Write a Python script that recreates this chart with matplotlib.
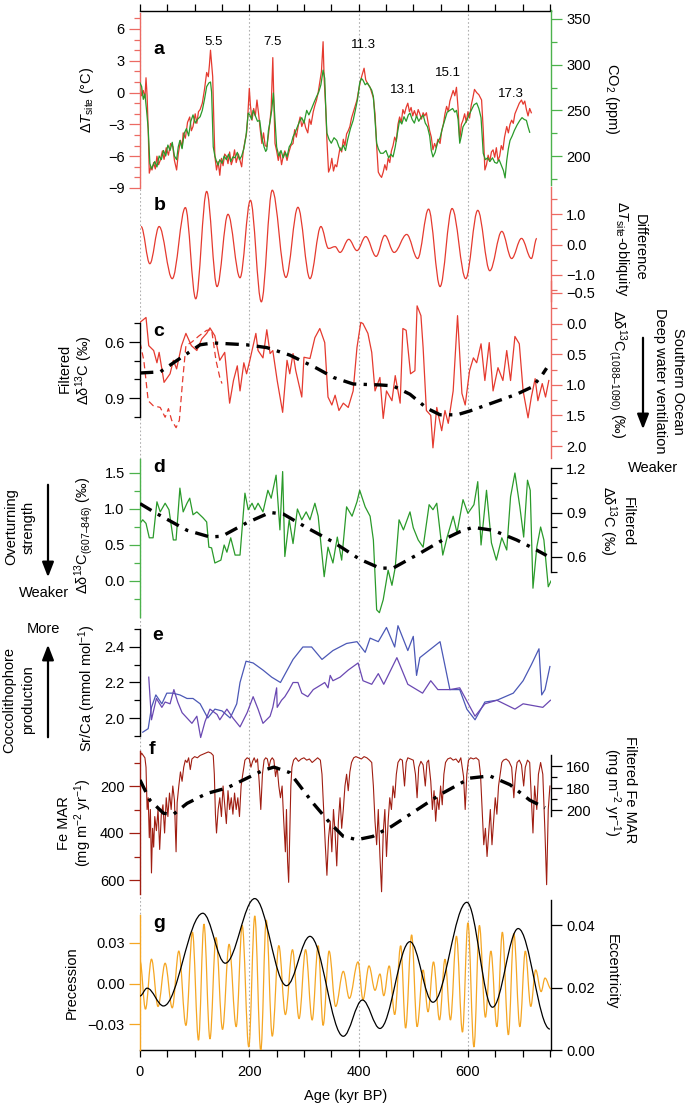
import numpy as np
import matplotlib
matplotlib.use("Agg")
import matplotlib.pyplot as plt
from matplotlib.path import Path
from matplotlib.patches import PathPatch

# ── 1. DATA ──────────────────────────────────────────────
# a: Delta T site (C) and CO2 (ppm)
a_t_age = [0,3,6,9,11,13,15,17,20,22, 25,28,31,34,37,41,44,48,52,56, 60,63,67,70,74,77,79,83,87,91,
           94,97,101,104,107,110,114,118,122,125, 127,129,131,133,135,137,140,143,146,149,
           152,155,158,161,164,167,170,173,176,180, 183,186,189,192,195,197,200,202,205,208,
           211,214,217,220,223,226,229,232,235,238, 240,243,245,247,250,253,256,259,262,265,
           269,272,276,280,283,286,290,293,296,300, 303,307,310,313,317,320,323,326,329,332,
           335,337,340,342,345,348,351,354,357,360, 363,366,369,372,375,378,381,384,387,390,
           394,397,400,403,406,410,413,417,421,424, 427,430,433,436,439,442,445,448,451,454,
           457,460,463,466,469,472,475,478,481,484, 487,490,493,496,499,502,506,509,512,515,
           518,521,524,527,530,533,536,539,542,545, 549,552,555,558,561,564,567,570,573,576,
           579,582,585,588,591,594,597,600,603,606, 609,612,616,620,625,628,631,634,637,640,
           643,646,649,652,655,658,661,664,667,671, 674,677,680,683,686,690,694,698,701,704,
           707,710,713,716]
a_temp = [0.9,-0.3,0.2,-0.5,1.4,-0.3,-3.5,-7.6,-7.0,-7.3, -6.6,-7.2,-6.0,-6.8,-6.4,-5.5,-6.3,-5.2,-5.9,-4.8,
          -5.1,-6.4,-7.3,-5.8,-4.5,-5.2,-3.8,-4.3,-2.8,-2.3, -3.6,-3.2,-2.0,-2.9,-1.8,-1.6,-1.0,0.3,1.9,1.5,
          2.6,4.0,2.8,1.5,-2.5,-6.0,-7.3,-6.5,-7.8,-6.2, -6.9,-5.8,-6.0,-6.7,-5.6,-6.8,-6.3,-5.4,-6.6,-5.8,
          -6.4,-7.0,-5.5,-4.6,-3.8,-2.4,0.4,-1.2,-2.6,-1.5, -2.2,-0.7,-2.0,-3.5,-4.8,-3.8,-5.0,-5.1,-4.0,-2.6,
          -1.5,3.3,-1.0,-4.8,-5.5,-6.4,-5.6,-6.8,-6.0,-5.5, -6.4,-5.7,-5.0,-4.8,-3.5,-4.2,-3.0,-2.3,-3.2,-2.6,
          -3.3,-3.8,-2.5,-3.0,-1.8,-1.2,-0.7,0.0,1.0,2.0, 4.8,1.2,-1.6,-4.5,-7.5,-7.1,-6.2,-7.4,-6.8,-7.0,
          -6.1,-5.2,-5.6,-4.4,-5.0,-3.9,-3.6,-3.2,-2.4,-1.9, -1.2,-0.7,0.2,1.0,1.6,2.3,1.2,0.8,0.5,0.0,
          -0.5,-2.0,-5.0,-7.5,-7.8,-8.0,-7.5,-6.8,-7.3,-6.2, -6.6,-5.5,-5.0,-4.2,-4.6,-3.0,-2.3,-2.8,-1.6,-2.0,
          -1.4,-1.0,-1.8,-1.4,-2.2,-1.7,-2.3,-1.6,-2.0,-2.5, -1.9,-2.2,-1.9,-2.8,-3.6,-4.2,-5.4,-4.8,-5.2,-4.4,
          -4.8,-3.6,-3.0,-2.0,-1.3,-1.8,-0.8,-0.3,0.2,-0.3, 0.5,-1.5,-4.5,-3.0,-2.6,-2.0,-2.8,-1.8,-2.4,-1.2,
          -0.5,0.3,0.0,-0.2,-0.7,-3.5,-7.3,-6.8,-5.9,-6.5, -5.6,-5.4,-6.1,-5.2,-6.4,-6.0,-5.0,-5.4,-4.2,-3.2,
          -3.8,-3.0,-2.6,-2.9,-2.0,-1.5,-1.0,-0.7,-1.1,-0.8, -1.6,-2.2,-1.5,-1.9]
a_co2_age = [0,3,6,9,12,15,18,21,24,27, 31,35,39,43,47,51,55,59,63,67, 70,73,77,81,85,89,93,97,101,105,
             110,114,118,122,126,129,131,134,137,140, 143,146,150,154,158,162,166,170,174,178,
             182,186,190,194,198,201,204,207,211,215, 219,223,227,230,232,235,238,241,244,247,
             250,254,258,262,266,269,273,277,280,284, 288,292,296,300,305,309,314,318,323,327,
             331,335,338,340,342,346,350,355,360,364, 368,372,376,380,385,390,394,398,402,405,
             408,412,416,421,424,427,430,433,436,440, 445,450,455,459,463,467,471,475,479,483,
             487,491,494,498,502,506,510,514,518,522, 526,530,533,536,540,544,549,554,558,562,
             567,572,576,579,582,585,588,591,595,598, 602,606,611,616,620,624,628,632,636,640,
             645,649,653,657,661,665,668,671,674,677, 681,685,690,695,699,703,707,710,713]
a_co2 = [280,276,262,268,250,230,192,186,190,194, 188,200,196,206,200,212,206,215,200,196,
         210,217,208,225,230,222,238,245,236,240, 243,250,262,276,280,281,270,210,200,194,
         190,196,192,200,196,202,194,199,198,204, 196,200,208,222,247,245,240,250,244,238,
         239,220,210,205,207,228,238,250,269,240, 210,200,206,198,204,199,210,214,221,226,
         232,238,242,236,250,245,252,258,265,270, 278,294,285,250,225,218,214,220,217,210,
         206,212,206,218,230,239,250,262,280,285, 283,278,280,275,272,265,240,214,208,203,
         203,206,198,202,199,210,225,239,235,243, 238,245,247,240,236,244,238,242,245,236,
         232,222,206,199,204,214,220,232,240,248, 250,252,248,250,240,214,222,232,236,239,
         245,250,256,258,252,242,203,196,198,194, 198,193,192,196,190,184,176,195,208,217,
         222,228,234,239,242,240,239,232,226]
mis_labels = ["5.5", "7.5", "11.3", "13.1", "15.1", "17.3"]

# b: difference Delta T site - obliquity (turning points)
b_age = [2,18,35,59,83,102,122,141,161,183,202,222,242,267,289,311,331,345,357,366,
         382,397,413,432,448,465,488,508,528,549,571,596,618,640,662,680,698,716,726]
b_diff = [0.59,-0.63,0.59,-1.12,1.21,-1.78,1.74,-1.38,0.99,-1.09,1.45,-1.88,1.78,-1.08,1.22,-1.12,0.59,-0.13,-0.07,-0.26,
          0.17,-0.2,0.26,-0.39,0.3,-0.26,0.33,-0.46,1.16,-1.38,1.18,-1.12,1.12,-0.86,0.43,-0.46,0.2,-0.46,0.2]

# c: Southern Ocean d13C gradient (1088-1090) and filtered curve
c_age = [0,11,16,25,31,35,44,55,61,67, 76,84,94,104,113,122,128,137,146,155,
         164,171,178,183,190,195,201,205,212,216, 225,232,238,243,251,261,269,274,280,285,
         296,300,311,320,329,338,344,351,357,364, 372,381,390,397,404,408,417,424,430,439,
         445,451,461,467,476,481,487,495,503,507, 514,518,524,532,536,543,552,558,564,573,
         581,589,595,603,610,616,624,631,639,646, 655,664,671,678,686,694,701,710,716,723,
         728,736,742,748]
c_d13c = [-0.02,-0.1,0.36,0.44,0.64,0.47,0.96,0.82,0.6,0.74, 0.36,0.16,0.36,0.44,0.25,0.16,0.07,0.2,0.6,0.47,
          1.3,0.93,0.69,1.1,0.64,0.82,0.6,0.44,0.16,0.44, 0.56,0.1,0.49,0.44,0.93,1.45,0.6,0.82,0.49,0.77,
          1.2,0.55,0.57,0.23,0.08,0.31,1.2,1.33,1.17,1.42, 1.3,1.37,1.1,0.39,-0.02,0.0,0.16,0.47,1.1,0.88,
          1.55,1.1,1.26,0.85,1.3,0.08,0.11,0.82,0.77,-0.29, -0.13,0.39,1.42,1.5,2.03,1.37,1.75,1.42,1.63,1.1,
          -0.13,1.14,1.33,0.77,0.56,0.64,0.33,0.93,0.31,1.1, 0.72,0.93,0.44,0.93,0.21,0.33,1.1,1.54,1.2,0.9,
          1.26,0.98,1.2,0.93]
c2_age = [0,7,15,24,37,46,52,58,66,72,78,84,95,108,122,131,139,146,150]
c2_d13c = [0.31,0.6,1.26,1.34,1.37,1.53,1.39,1.58,1.7,1.58,0.93,0.36,0.3,0.2,0.11,0.1,0.6,0.88,0.98]
c_filt_age = [0,37,67,110,134,195,232,274,323,354,390,439,463,494,525,549,580,603,646,689,718,735,744]
c_filt = [0.766,0.76,0.70,0.615,0.605,0.615,0.63,0.67,0.74,0.79,0.825,0.83,0.835,0.88,0.955,0.99,0.99,
          0.97,0.925,0.88,0.84,0.78,0.74]

# d: d13C gradient (607-846) and filtered curve
d_age = [0,5,11,17,24,31,37,46,53,61, 66,73,79,86,91,97,104,115,122,126,
         131,137,148,154,159,166,174,183,192,198, 205,210,216,225,234,240,249,256,261,265,
         273,280,288,296,304,311,320,326,337,344, 353,361,369,378,388,397,402,412,421,427,
         433,438,445,454,461,467,474,482,494,500, 509,518,529,536,543,554,562,573,580,591,
         600,611,618,624,634,643,652,662,671,678, 686,695,702,709,714,719,726,733,739,747, 752]
d_d13c = [0.8,0.85,0.8,0.6,0.6,1.1,0.96,1.08,0.99,0.57, 0.57,1.29,0.96,1.08,1.15,0.92,0.96,0.88,0.82,0.47,
          0.46,0.25,0.29,0.5,0.4,0.6,0.36,0.36,1.22,0.99, 1.08,0.99,1.08,0.96,1.26,1.15,1.47,0.71,1.52,0.34,
          0.85,0.52,1.0,0.85,0.96,0.85,1.08,0.9,0.06,0.47, 0.25,0.61,0.29,1.03,0.9,1.1,1.26,1.03,0.9,0.57,
          -0.4,-0.44,-0.26,0.15,-0.06,0.19,0.85,0.71,0.96,0.74, 0.57,0.47,1.06,0.99,1.08,0.36,0.61,0.9,0.67,1.13,
          0.94,1.06,1.38,0.5,1.26,0.53,0.29,0.6,0.43,1.17, 1.5,1.03,0.61,1.4,1.26,-0.1,0.47,0.75,0.57,-0.08, 0.0]
d_filt_age = [0,27,86,128,150,195,238,262,304,354,402,439,463,512,554,585,609,646,689,719,744]
d_filt = [0.96,0.9,0.78,0.735,0.74,0.83,0.9,0.89,0.80,0.70,0.585,0.525,0.525,0.625,0.715,0.77,0.8,
          0.78,0.715,0.66,0.61]

# e: coccolith Sr/Ca, two records
e1_age = [5,15,21,29,40,49,60,73,86,97, 110,124,137,150,165,177,183,194,207,225,
          241,257,280,298,314,333,353,378,397,412, 421,436,451,466,472,490,500,506,512,549,
          567,585,598,613,631,653,683,701,716,730, 735,741,750]
e1_srca = [1.92,1.94,2.06,2.13,2.08,2.14,2.14,2.13,2.11,2.11, 2.08,2.0,2.05,2.04,2.0,2.08,2.2,2.32,2.31,2.27,
           2.23,2.2,2.33,2.4,2.4,2.33,2.38,2.42,2.43,2.37, 2.45,2.43,2.51,2.4,2.52,2.38,2.46,2.24,2.34,2.43,
           2.16,2.16,2.05,1.99,2.09,2.1,2.14,2.21,2.3,2.39, 2.13,2.16,2.29]
e2_age = [16,21,30,40,46,55,62,69,77,86, 95,104,111,119,128,141,146,159,170,183,
          196,207,216,225,238,243,250,251,259,265, 273,280,289,296,307,317,333,338,344,348,
          353,366,381,399,408,424,436,446,470,490, 517,532,545,567,585,613,631,653,686,701, 737,751]
e2_srca = [2.23,1.99,2.11,2.06,2.09,2.08,2.16,2.09,2.03,2.0, 1.97,2.01,1.89,1.98,2.05,2.02,1.99,2.05,2.0,1.95,
           2.03,2.12,2.05,1.97,2.01,2.06,2.17,2.06,2.1,2.12, 2.16,2.2,2.2,2.14,2.12,2.16,2.19,2.2,2.17,2.24,
           2.21,2.23,2.27,2.31,2.21,2.19,2.25,2.19,2.34,2.19, 2.14,2.21,2.16,2.16,2.17,2.01,2.08,2.1,2.05,2.08, 2.06,2.1]

# f: Fe mass accumulation rate and filtered curve
f_age = [0,3,6,9,11,13,15,17,19,21, 23,25,27,30,33,36,39,42,45,48, 51,54,57,60,63,66,68,71,74,77,
         80,83,86,89,92,95,100,105,110,115, 120,125,130,134,136,138,140,143,146,149,
         152,155,158,161,164,167,170,173,176,179, 182,185,188,192,196,200,203,206,209,212,
         215,218,221,224,227,230,233,236,239,242, 245,248,251,254,257,260,263,266,268,270,
         272,274,276,278,281,285,290,295,300,305, 310,315,320,325,330,333,336,339,342,345,
         348,351,354,357,360,363,366,369,372,375, 378,381,384,387,391,395,400,405,410,415,
         420,424,427,430,433,436,439,442,445,448, 451,454,457,460,463,466,469,472,476,480,
         484,487,490,495,500,504,507,510,514,518, 522,525,528,532,535,538,541,544,547,550,
         553,556,559,563,568,573,578,583,587,592, 595,598,601,605,610,615,620,623,626,629,
         632,635,638,641,644,647,650,653,656,659, 662,665,670,675,680,684,687,690,694,698,
         702,705,709,713,716,719,722,726,729,733, 737,741,744,747,750]
f_fe = [75,60,70,80,120,300,250,420,300,570, 380,460,330,390,300,470,320,280,400,250, 330,230,300,200,260,480,270,200,140,180,
        120,90,100,80,130,85,75,80,70,65, 60,55,60,70,150,320,400,300,250,330,
        200,280,360,220,300,250,320,230,300,250, 330,200,150,90,80,85,120,95,80,100,
        85,180,300,150,90,80,85,120,90,80, 90,160,120,200,250,200,350,480,300,520,
        610,400,200,120,90,80,95,85,80,90, 85,100,90,80,90,150,300,450,580,420,
        350,480,300,400,540,350,250,380,300,200, 150,220,140,100,80,75,80,85,75,80,
        90,100,200,350,450,300,500,650,400,300, 500,350,250,300,200,250,150,100,85,90,
        200,100,80,85,90,150,250,120,95,110, 200,100,90,180,300,220,350,250,300,200,
        280,150,100,85,80,90,85,100,80,160, 300,150,90,80,85,80,90,150,300,450,
        380,500,400,300,450,350,250,320,200,150, 100,90,85,95,120,250,150,100,90,110,
        200,120,90,100,250,400,200,300,150,100, 150,400,620,300,200]
f_filt_age = [0,18,43,61,86,122,159,196,225,245,274,317,348,372,397,426,460,494,549,604,640,677,713,741]
f_filt = [172.7,191,203,204,194,185,180,171,164,161,166,194,212,224,227,224,215,204,186,171,169,177,191,198]

# g: precession and eccentricity (turning points)
g_prec_age = [0,10,21,33,46,59,71,84,96,107,117,128,139,151,163,176,187,199,210,221,231,242,254,266,
              279,291,303,315,326,335,346,358,372,383,399,408,419,430,439,446,456,466,477,486,497,507,
              518,527,537,548,558,568,579,590,600,611,621,632,642,653,663,674,684,695,705,715,724,734,741,752]
g_prec = [0.017,-0.019,0.018,-0.017,0.015,-0.018,0.024,-0.031,0.038,-0.042,0.044,-0.041,0.034,-0.034,0.029,-0.032,
          0.043,-0.047,0.05,-0.05,0.047,-0.039,0.028,-0.023,0.025,-0.026,0.025,-0.027,0.028,-0.031,0.024,-0.017,
          0.009,-0.011,0.016,-0.012,0.013,-0.005,0.007,-0.009,0.013,-0.023,0.028,-0.033,0.036,-0.032,0.01,-0.021,
          0.016,-0.027,0.018,-0.027,0.035,-0.036,0.045,-0.047,0.043,-0.025,0.024,-0.032,0.038,-0.038,0.037,-0.032,
          0.024,-0.017,0.01,-0.006,0.004,-0.004]
g_ecc_age = [0,13,43,115,156,210,268,311,372,407,439,494,536,598,645,692,750]
g_ecc = [0.0173,0.0198,0.0141,0.0438,0.0278,0.0485,0.0206,0.0364,0.0044,0.0160,0.0069,0.0347,0.0153,
         0.0473,0.0137,0.0389,0.0067]

# ── 2. STYLE ─────────────────────────────────────────────
plt.rcParams["font.family"] = ["Liberation Sans", "DejaVu Sans"]
plt.rcParams["mathtext.fontset"] = "custom"
plt.rcParams["mathtext.rm"] = "Liberation Sans"
plt.rcParams["mathtext.it"] = "Liberation Sans:italic"
plt.rcParams["mathtext.default"] = "regular"

RED = "#e53a2f"
RED_SP = "#ec6a63"
GREEN = "#2a9a2a"
GREEN_SP = "#4cb24c"
FE = "#a01e12"
BLUE = "#4b58b6"
PURPLE = "#6a48b2"
ORANGE = "#f5a623"
FS = 10.5

W, H = 685, 1104
X0, X1 = 140, 551
Y0, Y1 = 11, 1050
XMAX = 752

fig = plt.figure(figsize=(W / 100, H / 100), dpi=100)
RECT = [X0 / W, 1 - Y1 / H, (X1 - X0) / W, (Y1 - Y0) / H]


def y_axis(side, v1, p1, v2, p2, color, bounds, major, labels, minor=()):
    ax = fig.add_axes(RECT)
    ax.patch.set_visible(False)
    ax.set_xlim(0, XMAX)
    k = (v2 - v1) / (p2 - p1)
    ax.set_ylim(v1 + (Y1 - p1) * k, v1 + (Y0 - p1) * k)
    for s in ax.spines.values():
        s.set_visible(False)
    sp = ax.spines[side]
    sp.set_visible(True)
    sp.set_color(color)
    sp.set_linewidth(1.0)
    sp.set_bounds(*bounds)
    ax.xaxis.set_visible(False)
    ax.yaxis.set_ticks_position(side)
    ax.set_yticks(major)
    ax.set_yticklabels(labels)
    ax.set_yticks(list(minor), minor=True)
    ax.tick_params(axis="y", which="major", length=8, width=0.9, color=color,
                   labelcolor="black", labelsize=FS, pad=3)
    ax.tick_params(axis="y", which="minor", length=4.5, width=0.9, color=color)
    return ax


def smooth(ax, xs, ys, **kw):
    # cubic segments with flat tangents at each turning point
    verts = [(xs[0], ys[0])]
    codes = [Path.MOVETO]
    for i in range(1, len(xs)):
        dx = xs[i] - xs[i - 1]
        verts += [(xs[i - 1] + 0.36 * dx, ys[i - 1]), (xs[i] - 0.36 * dx, ys[i]), (xs[i], ys[i])]
        codes += [Path.CURVE4] * 3
    ax.add_patch(PathPatch(Path(verts, codes), fill=False, **kw))


def txt(x, y, s, rot=0, size=FS, **kw):
    fig.text(x / W, 1 - y / H, s, rotation=rot, ha="center", va="center", fontsize=size, **kw)


# ── 3. FRAME (top/bottom age axes + dotted guides) ─────────
ax0 = fig.add_axes(RECT)
ax0.patch.set_visible(False)
ax0.set_xlim(0, XMAX)
ax0.set_ylim(0, 1)
for s in ["left", "right"]:
    ax0.spines[s].set_visible(False)
ax0.spines["top"].set_linewidth(1.0)
ax0.spines["bottom"].set_linewidth(1.0)
ax0.set_yticks([])
ax0.set_xticks([0, 200, 400, 600])
ax0.set_xticks([50, 100, 150, 250, 300, 350, 450, 500, 550, 650, 700, 750], minor=True)
ax0.tick_params(axis="x", which="both", top=True, bottom=True, direction="out",
                length=5, width=0.9, labelsize=FS, pad=6)
ax0.set_xlabel("Age (kyr BP)", fontsize=FS, labelpad=7)
for xv in [0, 200, 400, 600]:
    ax0.axvline(xv, color="#b0b0b0", lw=0.8, ls=(0, (1.5, 2.0)))

# ── 4. PANELS ────────────────────────────────────────────
# a
axA_T = y_axis("left", 6, 29, -9, 188, RED_SP, (-9, 7.5), [-9, -6, -3, 0, 3, 6],
               ["−9", "−6", "−3", "0", "3", "6"], minor=range(-8, 8))
axA_T.plot(a_t_age, a_temp, color=RED, lw=0.9)
axA_C = y_axis("right", 350, 19, 200, 156, GREEN_SP, (168, 360), [200, 250, 300, 350],
               ["200", "250", "300", "350"], minor=[175, 225, 275, 325])
axA_C.plot(a_co2_age, a_co2, color=GREEN, lw=0.9)

# b
axB = y_axis("right", 1.0, 214, -1.0, 275, RED_SP, (-1.85, 1.9), [-1, 0, 1],
             ["−1.0", "0.0", "1.0"], minor=[-1.5, -0.5, 0.5, 1.5])
smooth(axB, b_age, b_diff, color=RED, lw=0.9)

# c
axC_R = y_axis("right", -0.5, 293, 2.0, 446, RED_SP, (-0.7, 2.2), [-0.5, 0, 0.5, 1.0, 1.5, 2.0],
               ["−0.5", "0.0", "0.5", "1.0", "1.5", "2.0"],
               minor=[-0.25, 0.25, 0.75, 1.25, 1.75])
axC_R.plot(c_age, c_d13c, color=RED, lw=0.9)
axC_R.plot(c2_age, c2_d13c, color=RED, lw=0.9, ls=(0, (5, 3)))
axC_L = y_axis("left", 0.6, 342, 0.9, 398, "black", (0.5, 1.0), [0.6, 0.9], ["0.6", "0.9"],
               minor=[0.5, 0.7, 0.8, 1.0])
axC_L.plot(c_filt_age, c_filt, color="black", lw=2.4, ls=(0, (4, 2.2, 1, 2.2)))

# d
axD_L = y_axis("left", 1.5, 473, 0.0, 581, GREEN_SP, (-0.5, 1.7), [0, 0.5, 1.0, 1.5],
               ["0.0", "0.5", "1.0", "1.5"], minor=[-0.25, 0.25, 0.75, 1.25])
axD_L.plot(d_age, d_d13c, color=GREEN, lw=0.9)
axD_R = y_axis("right", 1.2, 468, 0.6, 557, "black", (0.5, 1.2), [0.6, 0.9, 1.2],
               ["0.6", "0.9", "1.2"], minor=[0.5, 0.7, 0.8, 1.0, 1.1])
axD_R.plot(d_filt_age, d_filt, color="black", lw=2.4, ls=(0, (4, 2.2, 1, 2.2)))

# e
axE = y_axis("left", 2.4, 647, 2.0, 718, "black", (1.9, 2.5), [2.0, 2.2, 2.4],
             ["2.0", "2.2", "2.4"], minor=[1.9, 2.1, 2.3, 2.5])
axE.plot(e1_age, e1_srca, color=BLUE, lw=0.9)
axE.plot(e2_age, e2_srca, color=PURPLE, lw=0.9)

# f
axF_L = y_axis("left", 200, 786, 600, 880, FE, (50, 660), [200, 400, 600],
               ["200", "400", "600"], minor=[100, 300, 500])
axF_L.plot(f_age, f_fe, color=FE, lw=0.8)
axF_R = y_axis("right", 160, 766, 200, 810, "black", (150, 205), [160, 180, 200],
               ["160", "180", "200"], minor=[170, 190])
axF_R.plot(f_filt_age, f_filt, color="black", lw=2.4, ls=(0, (4, 2.2, 1, 2.2)))

# g
axG_L = y_axis("left", 0.03, 943, -0.03, 1024, ORANGE, (-0.049, 0.051), [-0.03, 0, 0.03],
               ["−0.03", "0.00", "0.03"])
smooth(axG_L, g_prec_age, g_prec, color=ORANGE, lw=0.9)
axG_R = y_axis("right", 0.04, 926, 0.0, 1051, "black", (0, 0.048), [0, 0.02, 0.04],
               ["0.00", "0.02", "0.04"])
smooth(axG_R, g_ecc_age, g_ecc, color="black", lw=0.9)

# ── 5. TEXT ──────────────────────────────────────────────
for s, (x, y) in zip("abcdefg", [(159, 50), (160, 206), (159, 331), (159, 468),
                                  (158, 636), (152, 749), (159, 923)]):
    txt(x, y, s, size=14, fontweight="bold")

for s, (x, y) in zip(mis_labels, [(214, 42), (273, 42), (363, 45), (403, 90), (448, 73), (511, 94)]):
    txt(x, y, s, size=9.5)

txt(87, 100, "Δ$\\mathit{T}_{site}$ (°C)", rot=90)
txt(612, 99, "CO$_2$ (ppm)", rot=270)
txt(640, 247, "Difference", rot=270)
txt(622, 249, "Δ$\\mathit{T}_{site}$-obliquity", rot=270)
txt(65, 368, "Filtered", rot=90)
txt(84, 370, "Δδ$^{13}$C (‰)", rot=90)
txt(617, 374, "Δδ$^{13}$C$_{(1088–1090)}$ (‰)", rot=270)
txt(678, 381, "Southern Ocean", rot=270)
txt(660, 381, "Deep water ventilation", rot=270)
txt(653, 468, "Weaker")
txt(84, 535, "Δδ$^{13}$C$_{(607–846)}$ (‰)", rot=90)
txt(11, 527, "Overturning", rot=90)
txt(29, 527, "strength", rot=90)
txt(44, 593, "Weaker")
txt(628, 522, "Filtered", rot=270)
txt(608, 521, "Δδ$^{13}$C (‰)", rot=270)
txt(87, 688, "Sr/Ca (mmol mol$^{-1}$)", rot=90)
txt(9, 700, "Coccolithophore", rot=90)
txt(28, 700, "production", rot=90)
txt(43, 629, "More")
txt(64, 823, "Fe MAR", rot=90)
txt(83, 823, "(mg m$^{-2}$ yr$^{-1}$)", rot=90)
txt(630, 790, "Filtered Fe MAR", rot=270)
txt(612, 792, "(mg m$^{-2}$ yr$^{-1}$)", rot=270)
txt(72, 983, "Precession", rot=90)
txt(612, 972, "Eccentricity", rot=270)

arrow = dict(arrowstyle="-|>,head_length=0.9,head_width=0.35", color="black", lw=1.6)
for x, y_from, y_to in [(643, 335, 432), (48, 482, 580), (48, 740, 642)]:
    ax0.annotate("", xy=(x, H - y_to), xytext=(x, H - y_from), xycoords="figure pixels",
                 textcoords="figure pixels", arrowprops=arrow, annotation_clip=False)

fig.savefig("out.png", dpi=100)
